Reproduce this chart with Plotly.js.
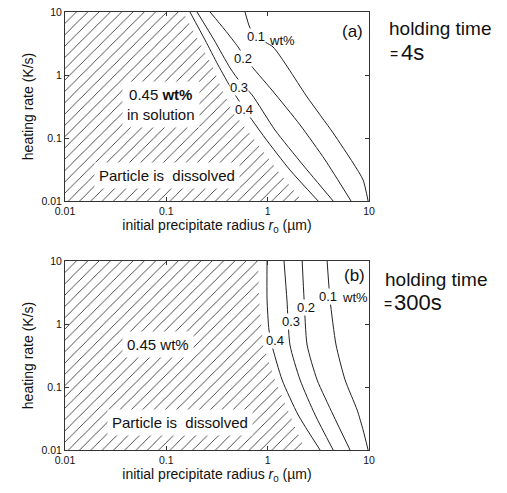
<!DOCTYPE html>
<html><head><meta charset="utf-8">
<script src="https://cdn.plot.ly/plotly-3.0.1.min.js"></script>
<style>body{margin:0;padding:0;background:#fff}#chart{width:507px;height:493px}</style>
</head><body><div id="chart"></div>
<script>
// ---- (a) holding time = 4 s ----
const aHatchX = [0.146, 0.206, 0.282, 0.355, 0.455, 0.718, 1.24, 2.19];
const aHatchY = [10, 3.6, 1.44, 0.578, 0.259, 0.1, 0.031, 0.01];
const aC04X = [0.171, 0.241, 0.324, 0.446, 0.598, 0.942, 1.66, 3.15];
const aC04Y = [10, 3.6, 1.44, 0.578, 0.278, 0.1, 0.031, 0.01];
const aC03X = [0.201, 0.296, 0.426, 0.535, 0.702, 1.18, 2.23, 4.43];
const aC03Y = [10, 3.6, 1.29, 0.774, 0.482, 0.134, 0.0373, 0.01];
const aC02X = [0.270, 0.379, 0.511, 0.641, 1.10, 2.09, 3.69, 6.65];
const aC02Y = [10, 5.18, 2.78, 1.61, 0.578, 0.161, 0.0448, 0.01];
const aC01X = [0.598, 0.670, 0.803, 1.13, 2.45, 4.43, 6.97, 8.75, 9.8];
const aC01Y = [10, 5.57, 3.86, 2.78, 0.448, 0.120, 0.0401, 0.0216, 0.01];
// ---- (b) holding time = 300 s ----
const bHatchX = [0.803, 0.822, 0.901, 1.18, 1.66, 2.34];
const bHatchY = [10, 2.40, 0.464, 0.129, 0.036, 0.01];
const bC04X = [0.986, 0.986, 1.03, 1.10, 1.39, 2.0, 3.29];
const bC04Y = [10, 2.40, 0.803, 0.464, 0.129, 0.036, 0.01];
const bC03X = [1.45, 1.55, 1.66, 2.09, 2.94, 4.43];
const bC03Y = [10, 2.40, 0.464, 0.129, 0.036, 0.01];
const bC02X = [2.19, 2.29, 2.45, 3.08, 4.43, 6.5];
const bC02Y = [10, 2.40, 0.464, 0.129, 0.036, 0.01];
const bC01X = [3.86, 4.13, 4.73, 5.81, 7.64, 8.75, 9.8];
const bC01Y = [10, 2.40, 0.464, 0.129, 0.0432, 0.0207, 0.01];

const tickVals = [0.01, 0.1, 1, 10];
const tickText = ['0.01', '0.1', '1', '10'];

const FONT = 'Liberation Sans, Arial, sans-serif';
const lineStyle = {color: '#222', width: 1};

function hatch(hx, hy, xa, ya) {
  return {x: [0.01, 0.01].concat(hx), y: [0.01, 10].concat(hy), xaxis: xa, yaxis: ya,
    type: 'scatter', mode: 'lines', fill: 'toself', line: {width: 0, color: 'rgba(0,0,0,0)'},
    fillcolor: 'rgba(0,0,0,0)',
    fillpattern: {shape: '/', size: 8, solidity: 0.1, fgcolor: '#222', bgcolor: 'rgba(255,255,255,0)'},
    hoverinfo: 'skip', showlegend: false};
}
function curve(cx, cy, xa, ya) {
  return {x: cx, y: cy, xaxis: xa, yaxis: ya, type: 'scatter', mode: 'lines',
    line: Object.assign({shape: 'spline', smoothing: 0.6}, lineStyle), hoverinfo: 'skip', showlegend: false};
}

const data = [
  hatch(aHatchX, aHatchY, 'x', 'y'),
  curve(aC04X, aC04Y, 'x', 'y'), curve(aC03X, aC03Y, 'x', 'y'),
  curve(aC02X, aC02Y, 'x', 'y'), curve(aC01X, aC01Y, 'x', 'y'),
  hatch(bHatchX, bHatchY, 'x2', 'y2'),
  curve(bC04X, bC04Y, 'x2', 'y2'), curve(bC03X, bC03Y, 'x2', 'y2'),
  curve(bC02X, bC02Y, 'x2', 'y2'), curve(bC01X, bC01Y, 'x2', 'y2')
];

// pixel -> paper helpers for annotation placement
const L = 65, R = 138, T = 12, B = 43, W = 507, H = 493;
const PW = W - L - R, PH = H - T - B;
const px = v => (v - L) / PW;
const py = v => 1 - (v - T) / PH;

function ax(domain, anchor, title) {
  return {type: 'log', range: [-2, 1], domain: domain, anchor: anchor,
    tickvals: tickVals, ticktext: tickText, ticks: 'inside', ticklen: 4, tickcolor: '#333',
    showline: true, linecolor: '#333', linewidth: 1, mirror: 'ticks', showgrid: false, zeroline: false,
    tickfont: {family: FONT, size: 10.5, color: '#111'},
    title: {text: title, font: {family: FONT, size: 14, color: '#111'}, standoff: 4}};
}

const xTitle = 'initial precipitate radius <i>r</i><sub>0</sub> (µm)';
const yTitle = 'heating rate (K/s)';
const topDom = [py(201), 1];
const botDom = [0, py(261)];

function ann(text, x, y, size, opts) {
  return Object.assign({text: text, x: px(x), y: py(y), xref: 'paper', yref: 'paper',
    showarrow: false, font: {family: FONT, size: size, color: '#111'}, xanchor: 'center', yanchor: 'middle'}, opts || {});
}
const wb = {bgcolor: 'white', borderpad: 0};
const wbox = {bgcolor: 'white', borderpad: 4};

const annotations = [
  // (a)
  ann('(a)', 352, 31, 17),
  ann('0.1', 256, 37, 13, wb), ann('wt%', 282, 41, 13),
  ann('0.2', 243, 58, 13, wb), ann('0.3', 239, 87, 13, wb), ann('0.4', 244, 110, 13, wb),
  ann('0.45 <b>wt%</b><br>in solution', 161, 105, 15, wbox),
  ann('Particle is  dissolved', 167, 175, 15, wbox),
  ann('holding time', 387, 29, 19, {xanchor: 'left'}),
  ann('=', 388, 54, 14, {xanchor: 'left'}),
  ann('4s', 399, 52, 22, {xanchor: 'left'}),
  // (b)
  ann('(b)', 354, 275, 17),
  ann('0.1', 328, 296, 13, wb), ann('wt%', 355, 297, 13),
  ann('0.2', 306, 307, 13, wb), ann('0.3', 291, 321, 13, wb), ann('0.4', 275, 340, 13, wb),
  ann('0.45 wt%', 158, 344, 15, wbox),
  ann('Particle is  dissolved', 180, 422, 15, wbox),
  ann('holding time', 383, 279, 19, {xanchor: 'left'}),
  ann('=', 382, 304, 14, {xanchor: 'left'}),
  ann('300s', 392, 302, 22, {xanchor: 'left'})
];

const layout = {
  width: W, height: H, margin: {l: L, r: R, t: T, b: B},
  paper_bgcolor: 'white', plot_bgcolor: 'rgba(0,0,0,0)', showlegend: false,
  xaxis: ax([0, 1], 'y', xTitle),
  yaxis: ax(topDom, 'x', yTitle),
  xaxis2: ax([0, 1], 'y2', xTitle),
  yaxis2: ax(botDom, 'x2', yTitle),
  annotations: annotations
};

Plotly.newPlot('chart', data, layout, {displayModeBar: false, staticPlot: true});
</script>
</body></html>
